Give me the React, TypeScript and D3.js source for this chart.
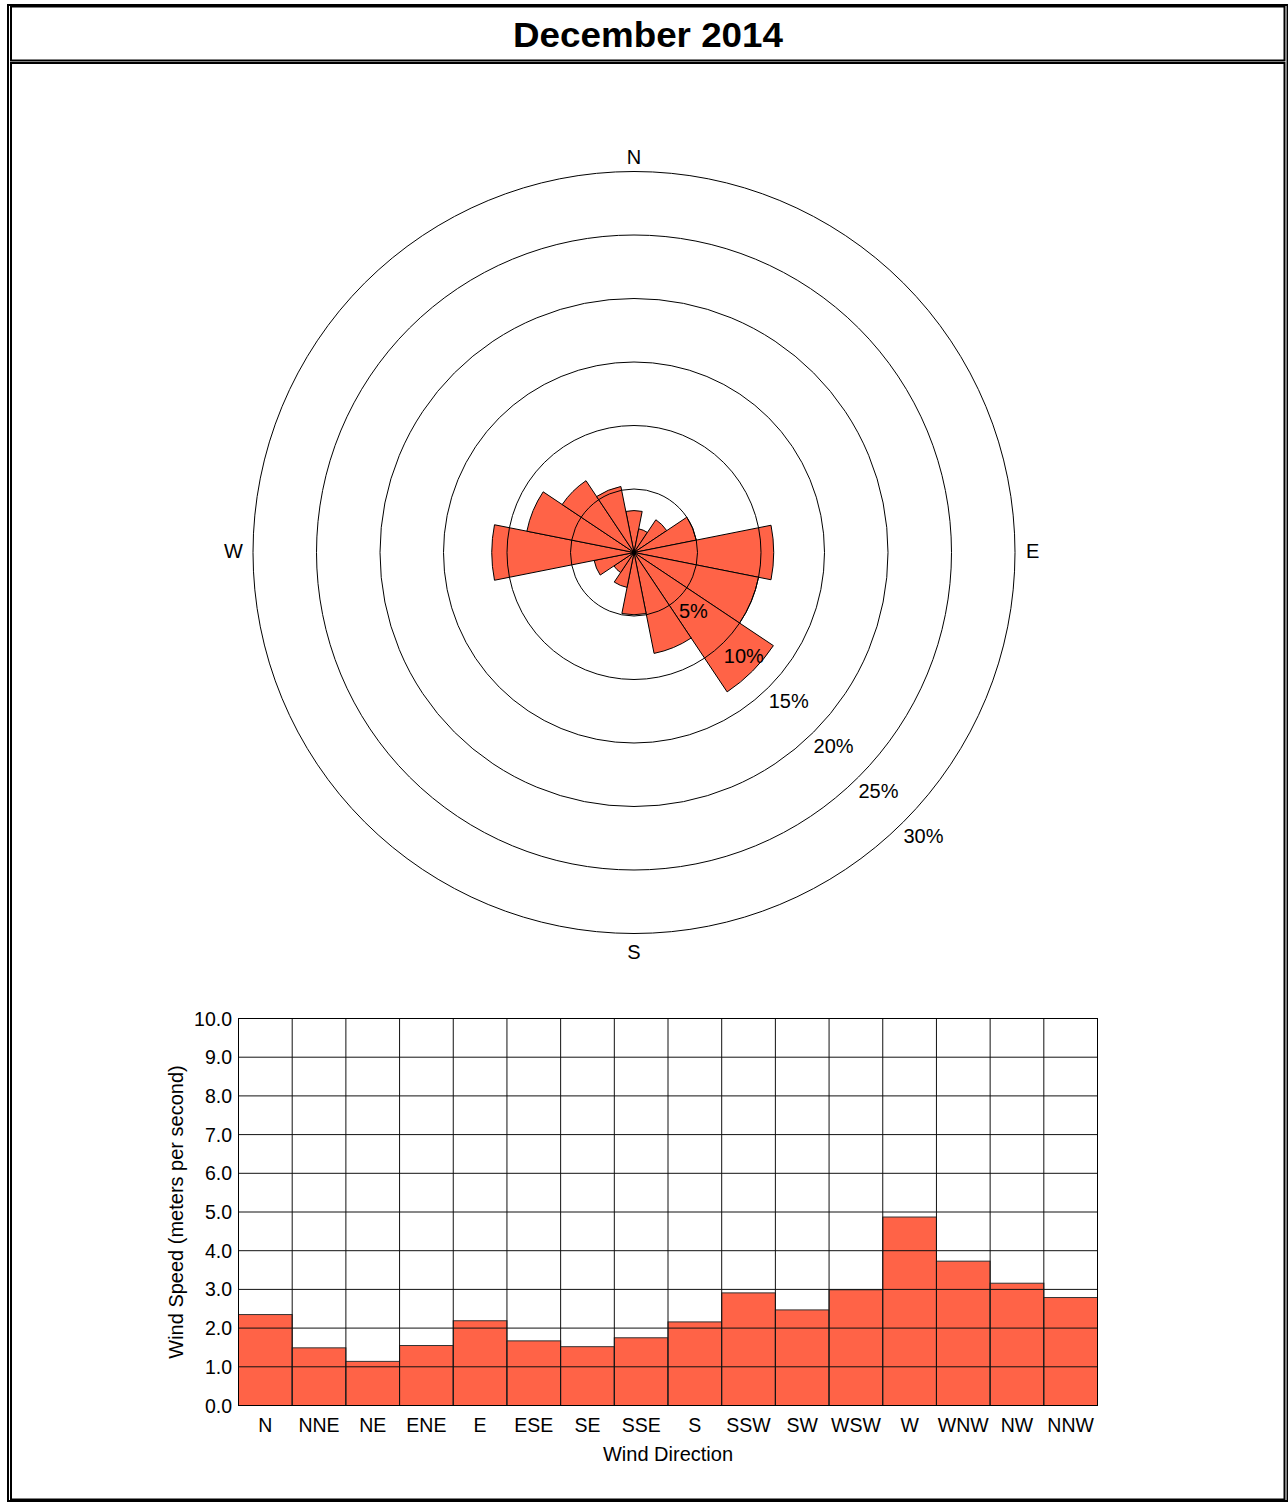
import React from "react";
import * as d3 from "d3";

const directions = ["N", "NNE", "NE", "ENE", "E", "ESE", "SE", "SSE", "S", "SSW", "SW", "WSW", "W", "WNW", "NW", "NNW"];
const roseFrequency = [3.3, 1.9, 3.1, 5.0, 11.0, 10.0, 13.2, 8.1, 4.9, 2.8, 1.9, 3.2, 11.2, 8.6, 6.8, 5.3];
const meanSpeed = [2.35, 1.49, 1.14, 1.55, 2.19, 1.67, 1.52, 1.75, 2.16, 2.91, 2.47, 2.99, 4.87, 3.73, 3.16, 2.79];
const ringTicks = [5, 10, 15, 20, 25, 30];
const speedTicks = [0, 1, 2, 3, 4, 5, 6, 7, 8, 9, 10];
const compassLabels = ["N", "E", "S", "W"];

const FONT = "'Liberation Sans', Arial, Helvetica, sans-serif";
const FILL = "#FF6347";

export default function App() {
  const W = 1288;
  const H = 1503;

  // Rose
  const cx = 634;
  const cy = 552.5;
  const rScale = d3.scaleLinear().domain([0, 30]).range([0, 381]);
  const step = (2 * Math.PI) / directions.length;
  const arc = d3.arc<any>();

  // Bars
  const x = d3.scaleBand<string>().domain(directions).range([238.5, 1097.5]).padding(0);
  const y = d3.scaleLinear().domain([0, 10]).range([1405.5, 1018.5]);
  const fmt = d3.format(".1f");

  const rMax = rScale(30);

  return (
    <svg
      width={W}
      height={H}
      style={{ position: "absolute", left: 0, top: 0, background: "#fff" }}
      fontFamily={FONT}
    >
      <rect x={0} y={0} width={W} height={H} fill="#fff" />
      {/* frames */}
      <rect x={8} y={5} width={1279.5} height={1496} fill="none" stroke="#000" strokeWidth={2} />
      <rect x={11} y={6.5} width={1273.5} height={54} fill="none" stroke="#000" strokeWidth={2} />
      <rect x={11} y={63} width={1273.5} height={1436.5} fill="none" stroke="#000" strokeWidth={2} />

      <text
        x={648}
        y={47}
        textAnchor="middle"
        fontSize={35}
        fontWeight="bold"
        textLength={270}
        lengthAdjust="spacingAndGlyphs"
      >
        December 2014
      </text>

      {/* Wind rose */}
      <g transform={`translate(${cx},${cy})`}>
        {roseFrequency.map((v, i) => (
          <path
            key={directions[i]}
            d={arc({
              innerRadius: 0,
              outerRadius: rScale(v),
              startAngle: (i - 0.5) * step,
              endAngle: (i + 0.5) * step,
            }) as string}
            fill={FILL}
            stroke="#000"
            strokeWidth={1}
          />
        ))}
        {ringTicks.map((t) => (
          <circle key={t} r={rScale(t)} fill="none" stroke="#000" strokeWidth={1} />
        ))}
        <circle r={2} fill="#000" />
        {ringTicks.map((t) => (
          <text
            key={"l" + t}
            x={rScale(t) * Math.SQRT1_2}
            y={rScale(t) * Math.SQRT1_2 + 21}
            fontSize={20}
            textAnchor="start"
          >
            {t}%
          </text>
        ))}
        {compassLabels.map((c) => {
          let tx = 0, ty = 0, anchor = "middle";
          if (c === "N") { tx = 0; ty = -rMax - 8; }
          if (c === "S") { tx = 0; ty = rMax + 25; }
          if (c === "E") { tx = rMax + 11; ty = 5; anchor = "start"; }
          if (c === "W") { tx = -rMax - 10; ty = 5; anchor = "end"; }
          return (
            <text key={c} x={tx} y={ty} fontSize={20} textAnchor={anchor as any}>
              {c}
            </text>
          );
        })}
      </g>

      {/* Bar chart */}
      {meanSpeed.map((v, i) => (
        <rect
          key={"b" + directions[i]}
          x={x(directions[i])!}
          y={y(v)}
          width={x.bandwidth()}
          height={y(0) - y(v)}
          fill={FILL}
          stroke="#333"
          strokeWidth={1}
        />
      ))}
      {speedTicks.map((t) => (
        <line
          key={"h" + t}
          x1={x.range()[0]}
          x2={x.range()[1]}
          y1={y(t)}
          y2={y(t)}
          stroke="#111"
          strokeWidth={1}
        />
      ))}
      {directions.map((d) => (
        <line
          key={"v" + d}
          x1={x(d)!}
          x2={x(d)!}
          y1={y(10)}
          y2={y(0)}
          stroke="#111"
          strokeWidth={1}
        />
      ))}
      <rect
        x={x.range()[0]}
        y={y(10)}
        width={x.range()[1] - x.range()[0]}
        height={y(0) - y(10)}
        fill="none"
        stroke="#000"
        strokeWidth={1}
      />
      {speedTicks.map((t) => (
        <text key={"yt" + t} x={232} y={y(t) + 7} fontSize={19.5} textAnchor="end">
          {fmt(t)}
        </text>
      ))}
      {directions.map((d) => (
        <text key={"xt" + d} x={x(d)! + x.bandwidth() / 2} y={1432} fontSize={19.5} textAnchor="middle">
          {d}
        </text>
      ))}
      <text x={(x.range()[0] + x.range()[1]) / 2} y={1461} fontSize={20} textAnchor="middle">
        Wind Direction
      </text>
      <text
        transform={`translate(183,${(y(0) + y(10)) / 2}) rotate(-90)`}
        fontSize={20}
        textAnchor="middle"
      >
        Wind Speed (meters per second)
      </text>
    </svg>
  );
}
